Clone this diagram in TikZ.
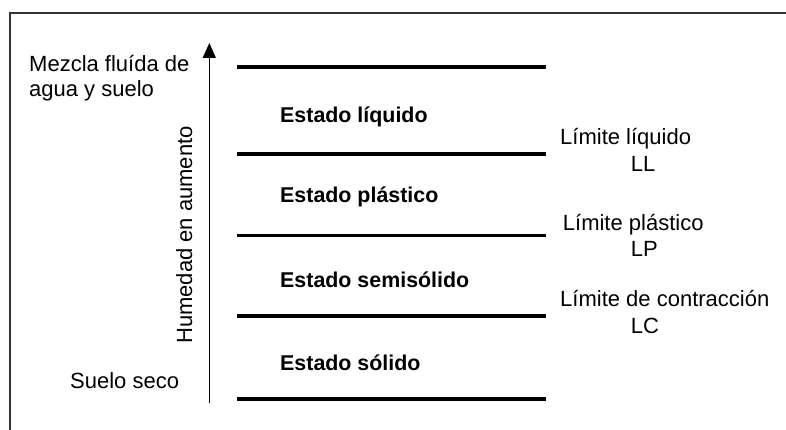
\documentclass[tikz,border=0pt]{standalone}
\usepackage{fontspec}
\setmainfont{Liberation Sans}
\usetikzlibrary{arrows.meta}
\begin{document}
\begin{tikzpicture}[x=1pt,y=-1pt,
  txt/.style={inner sep=0pt, anchor=base west, font=\fontsize{22}{26}\selectfont},
  state/.style={txt, font=\fontsize{21.4}{25}\selectfont\bfseries},
  level/.style={line width=3.8pt},
  frame/.style={line width=1.8pt, draw=black!80}]
\useasboundingbox (0,0) rectangle (786,430);
% frame (open to the right and bottom)
\coordinate (ftr) at (786,13.3);
\coordinate (ftl) at (10,13.3);
\coordinate (fbl) at (10,430);
\draw[frame] (ftr) -- (ftl) -- (fbl);
% levels
\foreach \n/\y in {a/66.7,b/154,c/235.5,d/316,e/399.3}{
  \coordinate (\n L) at (236.7,\y);
  \coordinate (\n R) at (545.7,\y);
  \draw[level] (\n L) -- (\n R);
}
% arrow
\coordinate (arrB) at (209.3,403);
\coordinate (arrT) at (209.3,43);
\draw[line width=1.5pt, -{Triangle[length=15pt,width=13pt]}] (arrB) -- (arrT);
% left texts
\node[txt] (mez1) at (29,72) {Mezcla fluída de};
\node[txt] (mez2) at (29,97) {agua y suelo};
\node[txt] (seco) at (70,388) {Suelo seco};
\node[txt, anchor=base, rotate=90] (hum) at (192,235) {Humedad en aumento};
% states
\node[state] (liq) at (280,123) {Estado líquido};
\node[state] (pla) at (280,203) {Estado plástico};
\node[state] (sem) at (280,287) {Estado semisólido};
\node[state] (sol) at (280,370) {Estado sólido};
% limits
\node[txt] (ll1) at (560,145) {Límite líquido};
\node[txt] (ll2) at (630.7,171.7) {LL};
\node[txt] (lp1) at (562.7,230.7) {Límite plástico};
\node[txt] (lp2) at (630.7,256.7) {LP};
\node[txt] (lc1) at (560,306.7) {Límite de contracción};
\node[txt] (lc2) at (630.7,333) {LC};
\end{tikzpicture}
\end{document}
